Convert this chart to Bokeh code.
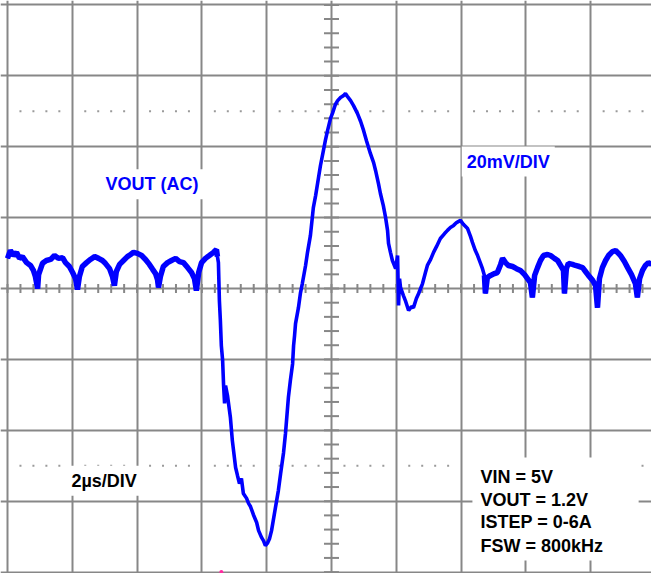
import numpy as np
from bokeh.plotting import figure
from bokeh.models import Range1d, Grid, FixedTicker, Label, BoxAnnotation
from bokeh.embed import file_html
from bokeh.resources import INLINE

# ---- data (read from the scope capture): time in us, VOUT (AC) in mV ----
t_us = [
    -10.00, -9.91, -9.81, -9.72, -9.63, -9.54, -9.41, -9.29, -9.20, -9.14, -9.07, -9.04,
    -8.92, -8.80, -8.67, -8.55, -8.43, -8.30, -8.21, -8.09, -7.99, -7.90, -7.84, -7.78,
    -7.69, -7.56, -7.44, -7.31, -7.19, -7.07, -6.98, -6.85, -6.76, -6.70, -6.64, -6.54,
    -6.42, -6.30, -6.20, -6.11, -5.99, -5.86, -5.74, -5.62, -5.52, -5.43, -5.37, -5.34,
    -5.28, -5.19, -5.06, -4.94, -4.81, -4.69, -4.57, -4.44, -4.32, -4.23, -4.17, -4.10,
    -4.01, -3.89, -3.77, -3.64, -3.55, -3.52,
    -3.49, -3.46, -3.43, -3.40, -3.36, -3.33, -3.30, -3.27, -3.21, -3.12, -3.06, -2.96,
    -2.90, -2.84, -2.78, -2.72, -2.62, -2.56, -2.50, -2.41, -2.31, -2.25, -2.16, -2.10,
    -2.04, -1.98, -1.91, -1.85, -1.73, -1.64, -1.57, -1.48, -1.42, -1.33, -1.27, -1.20,
    -1.17, -1.14, -1.11, -1.02, -0.96, -0.90, -0.80, -0.74, -0.65, -0.56, -0.49, -0.40,
    -0.34, -0.25, -0.19, -0.12, -0.03, 0.03, 0.12, 0.19, 0.28, 0.37, 0.43, 0.49,
    0.59, 0.68, 0.80, 0.90, 0.99, 1.08, 1.20, 1.30, 1.36, 1.45, 1.51, 1.60,
    1.67, 1.73, 1.76, 1.82, 1.88, 1.98, 2.04, 2.07, 2.10, 2.13, 2.22, 2.28,
    2.38, 2.47, 2.53, 2.62, 2.69, 2.75, 2.81, 2.90, 2.96, 3.06, 3.15, 3.24,
    3.36, 3.49, 3.58, 3.67, 3.77, 3.86, 3.98, 4.07, 4.20, 4.29, 4.35, 4.44,
    4.51, 4.60, 4.66, 4.72, 4.75, 4.81, 4.91, 5.03, 5.12, 5.22, 5.28, 5.37,
    5.46, 5.59, 5.71, 5.83, 5.96, 6.05, 6.14, 6.20, 6.27, 6.36, 6.45, 6.54,
    6.67, 6.76, 6.88, 6.98, 7.07, 7.16, 7.19, 7.25, 7.31, 7.44, 7.53, 7.65,
    7.75, 7.84, 7.93, 8.06, 8.15, 8.21, 8.27, 8.36, 8.46, 8.55, 8.67, 8.77,
    8.86, 8.92, 9.04, 9.14, 9.26, 9.38, 9.44, 9.51, 9.60, 9.69, 9.78, 9.88,
]
v_mv = [
    8.5, 10.7, 9.3, 10.2, 8.5, 9.0, 7.3, 6.5, 5.1, 3.4, 0.0, 3.9,
    7.1, 7.9, 8.2, 9.3, 8.5, 8.7, 7.3, 6.2, 4.5, 2.8, -0.3, 3.4,
    6.2, 7.3, 8.2, 9.0, 8.5, 7.9, 7.1, 5.6, 3.4, 0.8, 4.8, 6.8,
    7.9, 9.0, 9.6, 10.2, 9.9, 9.3, 8.2, 6.8, 5.4, 4.2, 2.5, 0.3,
    3.4, 6.2, 7.3, 7.9, 8.5, 7.6, 7.3, 5.9, 4.5, 2.8, -0.6, 4.5,
    7.3, 8.5, 9.3, 10.2, 11.0, 9.0,
    7.3, -3.4, -9.0, -16.1, -20.3, -27.4, -32.4, -27.4, -30.2, -36.4, -42.9, -50.5,
    -52.8, -55.0, -53.6, -57.8, -59.2, -60.6, -61.5, -63.8, -66.0, -68.3, -70.2, -71.1,
    -72.5, -71.9, -70.5, -68.3, -61.8, -57.0, -52.2, -46.3, -40.9, -30.7, -26.0, -21.2,
    -16.1, -13.3, -9.9, -5.4, -1.4, 1.4, 6.5, 10.2, 15.0, 22.8, 26.2, 31.3,
    34.7, 38.9, 41.7, 44.6, 48.0, 49.4, 51.9, 53.0, 53.9, 54.4, 55.0, 54.2,
    53.0, 51.6, 49.4, 47.1, 44.6, 41.7, 38.1, 35.5, 33.3, 29.6, 26.8, 23.4,
    20.0, 16.4, 12.7, 10.2, 7.9, 5.6, 9.3, -4.8, 2.8, 0.3, -2.0, -3.4,
    -6.2, -5.1, -5.4, -2.8, -1.4, 0.0, 1.4, 4.5, 6.5, 8.2, 10.2, 11.8,
    14.1, 15.5, 16.4, 17.2, 17.8, 18.6, 19.2, 18.1, 16.9, 14.7, 13.0, 10.7,
    9.3, 7.1, 5.6, 3.7, -1.4, 3.1, 3.7, 4.2, 4.5, 6.8, 8.5, 7.3,
    6.5, 6.2, 5.6, 5.1, 3.9, 2.8, 1.7, -2.5, 3.7, 5.9, 7.9, 9.3,
    9.6, 9.3, 8.5, 7.9, 6.5, 5.1, -1.4, 5.6, 7.1, 6.8, 6.5, 6.2,
    5.9, 4.8, 3.7, 2.3, 0.8, -5.4, 2.8, 5.9, 7.9, 9.3, 10.4, 10.7,
    9.9, 9.3, 7.6, 5.9, 3.9, 1.4, -2.5, 2.8, 5.1, 6.5, 7.3, 6.8,
]

# scope grid: 2 us/div horizontally, 20 mV/div vertically (outer lines = border)
x_major = [-10, -8, -6, -4, -2, 0, 2, 4, 6, 8]
y_major = [-80, -60, -40, -20, 0, 20, 40, 60, 80]

GRID = "#878787"
BLUE = "#0000FF"

p = figure(width=651, height=573,
           x_range=Range1d(-10.216, 9.877), y_range=Range1d(-80.39, 81.24),
           x_axis_type=None, y_axis_type=None,
           output_backend="svg", toolbar_location=None, min_border=0)
p.outline_line_color = None
p.background_fill_color = "white"
p.border_fill_color = "white"

p.add_layout(Grid(dimension=0, ticker=FixedTicker(ticks=x_major),
                  grid_line_color=GRID, grid_line_width=2))
p.add_layout(Grid(dimension=1, ticker=FixedTicker(ticks=y_major),
                  grid_line_color=GRID, grid_line_width=2))

# minor ticks on center lines (1/5 division)
xm = np.round(np.arange(-10, 10.001, 0.4), 2)
ym = np.arange(-80, 80.001, 4.0)
p.scatter(xm, np.zeros_like(xm), marker="dash", angle=np.pi / 2, size=9,
          line_color=GRID, line_width=2)
p.scatter(np.zeros_like(ym), ym, marker="dash", size=15, line_color=GRID, line_width=2)

# dotted reference rows at +/- 2.5 div
xd = np.array([x for x in xm if abs(x / 2 - round(x / 2)) > 0.01])
for yy in (50, -50):
    p.scatter(xd, np.full_like(xd, yy), marker="square", size=2,
              fill_color="#9a9a9a", line_color=None)

# trace: thicker where the capture shows a noisy band
n_pre = 66
i_post = t_us.index(4.72)
p.line(t_us, v_mv, line_color=BLUE, line_width=3.6)
p.line(t_us[:n_pre], v_mv[:n_pre], line_color=BLUE, line_width=5.5)
p.line(t_us[i_post:], v_mv[i_post:], line_color=BLUE, line_width=5.5)

# trigger marker
p.scatter([-3.40], [-80], marker="circle", size=4,
          fill_color="#ff2aa0", line_color=None)

FONT = "Liberation Sans"

def lab(x, y, txt, color, bg=True):
    kw = dict(background_fill_color="white", background_fill_alpha=1.0, padding=5) if bg else {}
    p.add_layout(Label(x=x, y=y, text=txt, text_color=color, text_font=FONT,
                       text_font_size="18px", text_font_style="bold",
                       text_align="left", text_baseline="middle", **kw))

lab(-7.13, 29.4, "VOUT (AC)", BLUE)
lab(4.02, 35.8, "20mV/DIV", BLUE)
lab(-8.18, -54.2, "2µs/DIV", "black")

p.add_layout(BoxAnnotation(left=4.35, right=9.48, top=-47.7, bottom=-76.7,
                           fill_color="white", fill_alpha=1.0, line_color=None))
for yy, txt in [(-53.3, "VIN = 5V"), (-59.7, "VOUT = 1.2V"),
                (-66.0, "ISTEP = 0-6A"), (-72.5, "FSW = 800kHz")]:
    lab(4.60, yy, txt, "black", bg=False)

open("out.html", "w").write(file_html(p, INLINE))
